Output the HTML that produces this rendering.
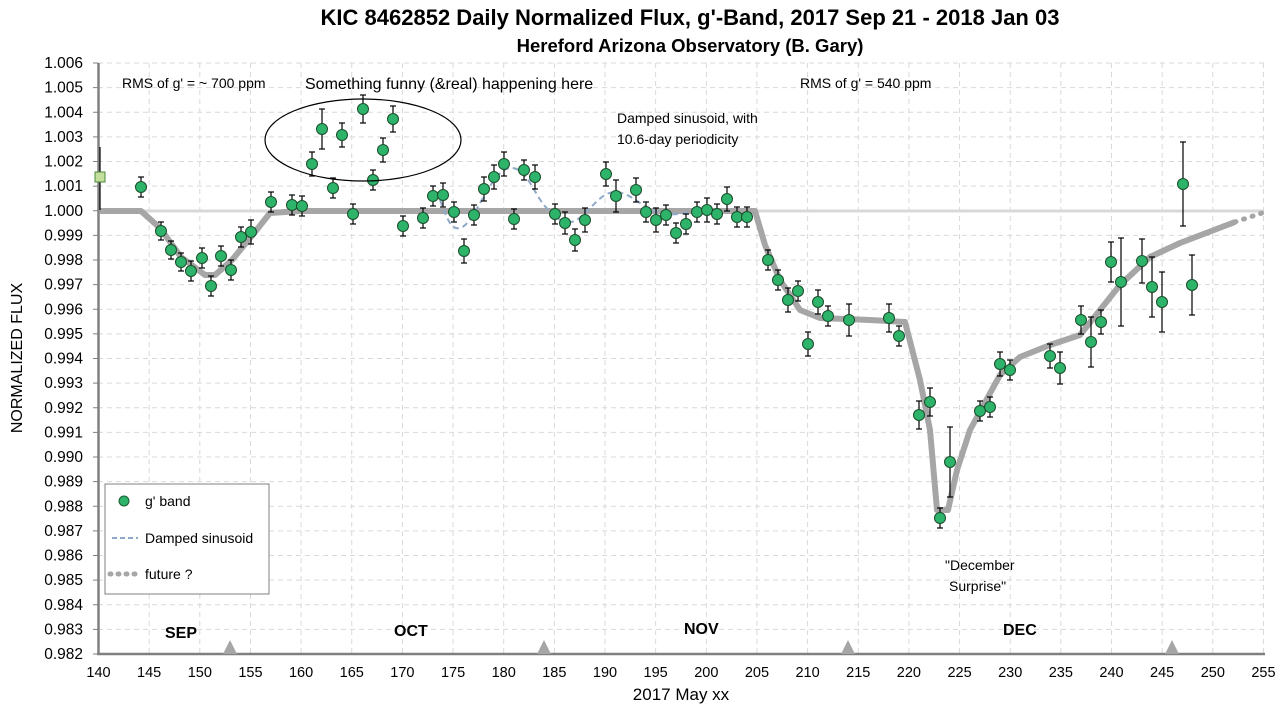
<!DOCTYPE html>
<html><head><meta charset="utf-8"><style>
body{margin:0;background:#fff;}
svg{display:block;font-family:"Liberation Sans",Calibri,sans-serif;}
</style></head><body>
<svg id="s" width="1280" height="713" xmlns="http://www.w3.org/2000/svg">
<rect width="1280" height="713" fill="#fff"/>
<g id="grid" stroke="#d9d9d9" stroke-dasharray="5,4" stroke-width="1"></g>
<line x1="98" y1="211" x2="1264" y2="211" stroke="#d8d8d8" stroke-width="3"/>
<polyline fill="none" stroke="#a6a6a6" stroke-width="6" stroke-linejoin="round" points="100,211 141,211 160,228 181,257 205,275 215,275 232,260 255,232 270,213 300,211 755,211 765,245 780,280 800,310 820,318 870,320 905,322 920,380 930,430 937,510 948,510 957,470 970,430 1000,375 1020,357 1050,345 1080,335 1100,310 1120,285 1150,257 1180,243 1235,222"/>
<polyline fill="none" stroke="#a6a6a6" stroke-width="5" stroke-dasharray="1,8" stroke-linecap="round" points="1235,222 1265,212"/>
<path d="M440,200 C448,222 452,230 460,228 C475,225 490,170 510,168 C528,166 535,200 550,211 C560,222 566,224 575,221 C590,212 600,192 615,192 C630,192 640,206 655,211 C665,216 675,215 700,211" fill="none" stroke="#8ea9c8" stroke-width="2" stroke-dasharray="6,4"/>
<g id="axes" stroke="#808080" stroke-width="2.5"><line x1="98.5" y1="63" x2="98.5" y2="654"/><line x1="97" y1="654" x2="1265" y2="654"/></g>
<g id="labels" font-size="14.5" fill="#000"></g>
<g id="pts"></g>
<ellipse cx="363" cy="140" rx="98" ry="41" fill="none" stroke="#000" stroke-width="1.2"/>
<g fill="#a6a6a6"><polygon points="223,654 230,640 237,654"/><polygon points="537,654 544,640 551,654"/><polygon points="841,654 848,640 855,654"/><polygon points="1165,654 1172,640 1179,654"/></g>
<text x="690" y="25" font-size="22" font-weight="bold" text-anchor="middle">KIC 8462852 Daily  Normalized Flux, g'-Band, 2017 Sep 21 - 2018 Jan 03</text>
<text x="690" y="52" font-size="18.5" font-weight="bold" text-anchor="middle">Hereford Arizona Observatory (B. Gary)</text>
<text x="22" y="358" font-size="16" text-anchor="middle" transform="rotate(-90 22 358)">NORMALIZED FLUX</text>
<text x="681" y="700" font-size="17" text-anchor="middle">2017 May xx</text>
<text x="122" y="88" font-size="14">RMS of g' = ~ 700 ppm</text>
<text x="305" y="89" font-size="16">Something funny (&amp;real) happening here</text>
<text x="800" y="88" font-size="14">RMS of g' = 540 ppm</text>
<text x="617" y="123" font-size="14">Damped sinusoid, with</text>
<text x="617" y="144" font-size="14">10.6-day periodicity</text>
<text x="945" y="570" font-size="14">"December</text>
<text x="949" y="591" font-size="14">Surprise"</text>
<g font-size="16" font-weight="bold"><text x="165" y="638">SEP</text><text x="394" y="636">OCT</text><text x="684" y="634">NOV</text><text x="1003" y="635">DEC</text></g>
<rect x="105" y="484" width="164" height="110" fill="#fff" stroke="#808080"/>
<circle cx="124" cy="501" r="5" fill="#2db36a" stroke="#1a5e30"/>
<text x="145" y="506" font-size="14">g' band</text>
<line x1="112" y1="538" x2="138" y2="538" stroke="#8ea9c8" stroke-width="2" stroke-dasharray="5,3"/>
<text x="145" y="543" font-size="14">Damped sinusoid</text>
<line x1="110" y1="574" x2="140" y2="574" stroke="#a6a6a6" stroke-width="5" stroke-dasharray="1,7" stroke-linecap="round"/>
<text x="145" y="579" font-size="14">future ?</text>
</svg>
<script>
var ns="http://www.w3.org/2000/svg";
function el(p,t,a,txt){var e=document.createElementNS(ns,t);for(var k in a)e.setAttribute(k,a[k]);if(txt!==undefined)e.textContent=txt;document.getElementById(p).appendChild(e);}
function X(t){return 98.5+(t-140)*10.13;}
for(var t=145;t<=255;t+=5)el("grid","line",{x1:X(t),y1:63,x2:X(t),y2:654});
for(var i=1;i<=24;i++){var y=654-i*24.625;el("grid","line",{x1:98,y1:y,x2:1264,y2:y});}
for(var t=140;t<=255;t+=5)el("labels","text",{x:X(t),y:677,"text-anchor":"middle"},t);
for(var i=0;i<=24;i++){var v=(0.982+i*0.001).toFixed(3);el("labels","text",{x:83,y:654-i*24.625+5,"text-anchor":"end","font-size":"15.5"},v);el("labels","line",{x1:93,x2:98,y1:654-i*24.625,y2:654-i*24.625,stroke:"#808080"});}
var P=[[141,187,10],[161,231,9],[171,250,9],[181,262,9],[191,271,10],[202,258,10],[211,286,10],[221,256,10],[231,270,10],[241,237,10],[251,232,12],[271,202,10],[292,205,10],[302,206,10],[312,164,12],[322,129,20],[333,188,10],[342,135,12],[353,214,10],[363,109,14],[373,180,10],[383,150,12],[393,119,13],[403,226,10],[423,218,10],[433,196,10],[443,195,12],[454,212,10],[464,251,12],[474,215,10],[484,189,12],[494,177,12],[504,164,12],[514,219,10],[524,170,10],[535,177,12],[555,214,10],[565,223,11],[575,240,11],[585,220,12],[606,174,12],[616,196,16],[636,190,12],[646,212,10],[656,220,12],[666,215,10],[676,233,10],[686,224,10],[697,212,10],[707,210,12],[717,214,10],[727,199,12],[737,217,10],[747,217,10],[768,260,10],[778,280,10],[788,300,12],[798,291,10],[808,344,12],[818,302,12],[828,316,10],[849,320,16],[889,318,14],[899,336,10],[919,415,14],[930,402,14],[940,518,10],[950,462,35],[980,411,10],[990,407,10],[1000,364,12],[1010,370,10],[1050,356,12],[1060,368,16],[1081,320,14],[1091,342,25],[1101,322,12],[1111,262,20],[1121,282,44],[1142,261,22],[1152,287,30],[1162,302,30],[1183,184,42],[1192,285,30]];
el("pts","line",{x1:100,y1:147,x2:100,y2:210,stroke:"#000","stroke-width":1.2});
el("pts","rect",{x:95,y:172,width:10,height:10,fill:"#c4df9b",stroke:"#4a8a3a"});
P.forEach(function(p){var x=p[0],y=p[1],e=p[2];
el("pts","line",{x1:x,y1:y-e,x2:x,y2:y+e,stroke:"#000","stroke-width":1.2});
el("pts","line",{x1:x-3,y1:y-e,x2:x+3,y2:y-e,stroke:"#000","stroke-width":1.2});
el("pts","line",{x1:x-3,y1:y+e,x2:x+3,y2:y+e,stroke:"#000","stroke-width":1.2});
el("pts","circle",{cx:x,cy:y,r:5.5,fill:"#2db36a",stroke:"#1a4d2a","stroke-width":1});});
</script>
</body></html>
